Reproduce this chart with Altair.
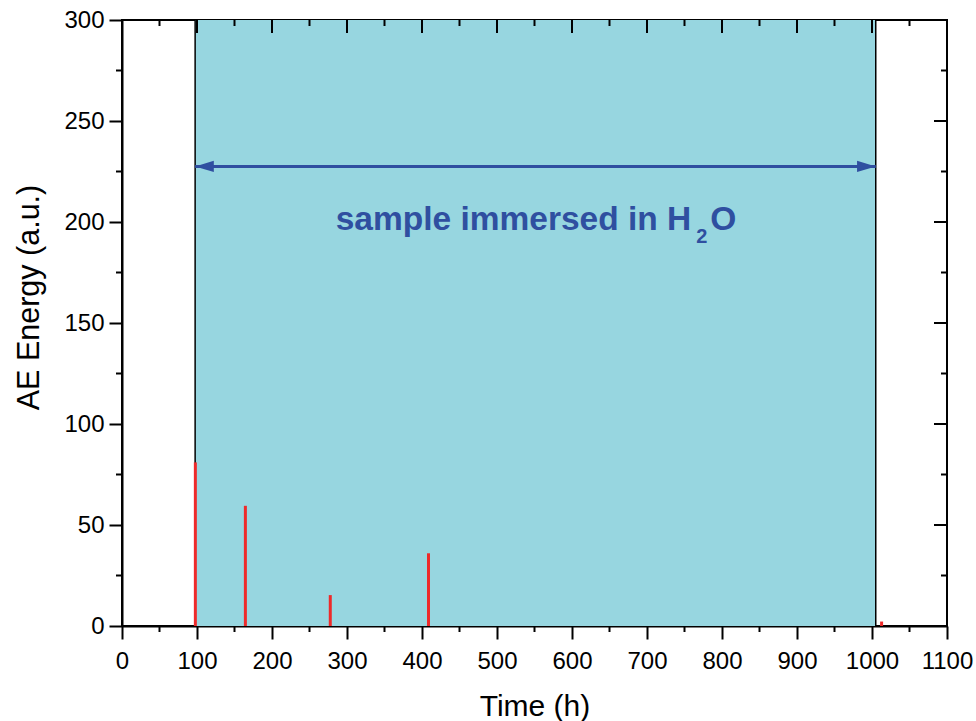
import altair as alt
import pandas as pd

# ---- data ----
spike_time = [97.8, 164.5, 277.7, 408.7, 1012.8]
spike_energy = [81, 59.5, 15.3, 36, 2.2]

immersion_start = [97.5]
immersion_end = [1005]
arrow_energy = [227.5]

x_major = [0, 100, 200, 300, 400, 500, 600, 700, 800, 900, 1000, 1100]
x_minor = [50, 150, 250, 350, 450, 550, 650, 750, 850, 950, 1050]
y_major = [0, 50, 100, 150, 200, 250, 300]
y_minor = [25, 75, 125, 175, 225, 275]

label_parts = ["sample immersed in H", "2", "O"]

# ---- styling ----
W, H = 825, 606
FONT = "Liberation Sans"
SHADE = "#97d6e0"
RED = "#ee2a2a"
BLUE = "#2f4fa0"

xs = alt.Scale(domain=[0, 1100], nice=False, zero=False)
ys = alt.Scale(domain=[0, 300], nice=False, zero=False)

spikes_df = pd.DataFrame({"time": spike_time, "energy": spike_energy})
region_df = pd.DataFrame({"start": immersion_start, "end": immersion_end, "arrow": arrow_energy})
edges_df = pd.DataFrame({"t": immersion_start + immersion_end})
heads_df = pd.DataFrame({
    "t": immersion_start + immersion_end,
    "e": arrow_energy * 2,
    "shape": ["M0,0 L1,-0.3 L1,0.3 Z", "M0,0 L-1,-0.3 L-1,0.3 Z"],
})
xmaj_df = pd.DataFrame({"v": x_major})
xmin_df = pd.DataFrame({"v": x_minor})
ymaj_df = pd.DataFrame({"v": y_major})
ymin_df = pd.DataFrame({"v": y_minor})

x_axis = alt.Axis(
    values=x_major, format="d", title="Time (h)", grid=False,
    tickSize=13, tickWidth=2, tickColor="black",
    domainColor="black", domainWidth=2,
    labelFont=FONT, labelFontSize=24, labelColor="black", labelPadding=10,
    labelFlush=False, labelOverlap=False,
    titleFont=FONT, titleFontSize=30, titleFontWeight="normal", titleColor="black",
    titleBaseline="alphabetic", titleY=89,
)
y_axis = alt.Axis(
    values=y_major, format="d", title="AE Energy (a.u.)", grid=False,
    tickSize=13, tickWidth=2, tickColor="black",
    domainColor="black", domainWidth=2,
    labelFont=FONT, labelFontSize=24, labelColor="black", labelPadding=5,
    labelFlush=False, labelOverlap=False,
    titleFont=FONT, titleFontSize=30.5, titleFontWeight="normal", titleColor="black",
    titleBaseline="alphabetic", titleAlign="center", titleX=-84, titleY=277,
)

# the first layer carries the axes; later layers share the scales only
shade = alt.Chart(region_df).mark_rect(color=SHADE).encode(
    x=alt.X("start:Q", scale=xs, axis=x_axis),
    x2="end:Q",
    y=alt.Y(datum=300, scale=ys, axis=y_axis),
    y2=alt.datum(0),
)

edges = alt.Chart(edges_df).mark_rule(color="black", strokeWidth=1.5).encode(
    x=alt.X("t:Q", scale=xs),
    y=alt.value(0),
    y2=alt.value(H),
)

arrow_line = alt.Chart(region_df).mark_rule(color=BLUE, strokeWidth=3).encode(
    x=alt.X("start:Q", scale=xs),
    x2="end:Q",
    y=alt.Y("arrow:Q", scale=ys),
)

heads = alt.Chart(heads_df).mark_point(filled=True, color=BLUE, opacity=1, size=1400, strokeWidth=0).encode(
    x=alt.X("t:Q", scale=xs),
    y=alt.Y("e:Q", scale=ys),
    shape=alt.Shape("shape:N", scale=None),
)

spikes = alt.Chart(spikes_df).mark_rule(color=RED, strokeWidth=3).encode(
    x=alt.X("time:Q", scale=xs),
    y=alt.Y("energy:Q", scale=ys),
    y2=alt.datum(0),
)

def tick_layer(df, channel, **kw):
    enc = {}
    if channel == "x":
        enc["x"] = alt.X("v:Q", scale=xs)
    else:
        enc["y"] = alt.Y("v:Q", scale=ys)
    enc.update(kw)
    return alt.Chart(df).mark_rule(color="black", strokeWidth=2).encode(**enc)

ticks = [
    tick_layer(xmin_df, "x", y=alt.value(H), y2=alt.value(H + 6)),
    tick_layer(ymin_df, "y", x=alt.value(-6), x2=alt.value(0)),
    tick_layer(xmaj_df, "x", y=alt.value(0), y2=alt.value(13)),
    tick_layer(xmin_df, "x", y=alt.value(0), y2=alt.value(6)),
    tick_layer(ymaj_df, "y", x=alt.value(W - 13), x2=alt.value(W)),
    tick_layer(ymin_df, "y", x=alt.value(W - 6), x2=alt.value(W)),
]

label_anchor = pd.DataFrame({"t": [759], "e": [196], "e2": [189.8]})
txt_main = alt.Chart(label_anchor).mark_text(
    text=label_parts[0], font=FONT, fontSize=33.5, fontWeight="bold", color=BLUE,
    align="right", baseline="alphabetic",
).encode(x=alt.X("t:Q", scale=xs), y=alt.Y("e:Q", scale=ys))
txt_sub = alt.Chart(label_anchor).mark_text(
    text=label_parts[1], font=FONT, fontSize=20, fontWeight="bold", color=BLUE,
    align="left", baseline="alphabetic", dx=5,
).encode(x=alt.X("t:Q", scale=xs), y=alt.Y("e2:Q", scale=ys))
txt_o = alt.Chart(label_anchor).mark_text(
    text=label_parts[2], font=FONT, fontSize=33.5, fontWeight="bold", color=BLUE,
    align="left", baseline="alphabetic", dx=19,
).encode(x=alt.X("t:Q", scale=xs), y=alt.Y("e:Q", scale=ys))

chart = alt.layer(
    shade, edges, arrow_line, heads, spikes, *ticks, txt_main, txt_sub, txt_o
).properties(
    width=W, height=H,
    padding={"left": 122, "top": 20, "right": 29, "bottom": 95},
    autosize=alt.AutoSizeParams(type="none"),
    background="white",
).configure_view(stroke="black", strokeWidth=2)

chart.save("out.html", embed_options={"renderer": "svg", "actions": False})
